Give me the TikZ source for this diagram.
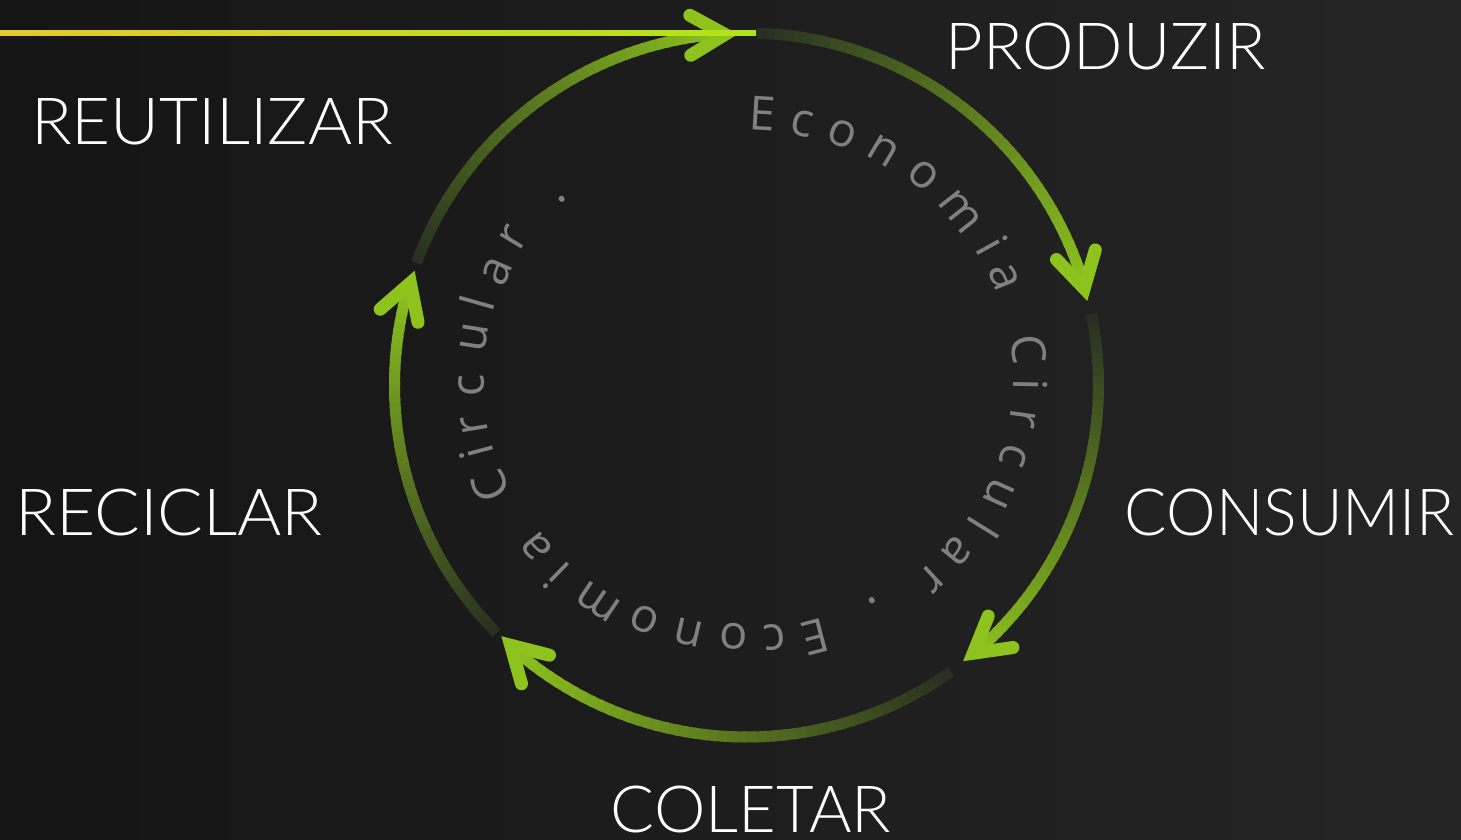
\documentclass[tikz,border=0pt]{standalone}
\usepackage{fontspec}
\usetikzlibrary{calc}
\newfontfamily\labelfont{Lato Light}
\newfontfamily\ringfont{Open Sans}
\definecolor{bgL}{RGB}{21,21,21}
\definecolor{bgR}{RGB}{37,37,37}
\definecolor{arcdark}{RGB}{40,48,33}
\definecolor{arcgreen}{RGB}{140,194,30}
\definecolor{arrowgreen}{RGB}{141,195,28}
\definecolor{lineyellow}{RGB}{228,200,46}
\definecolor{linelime}{RGB}{176,228,26}
\definecolor{ringgray}{RGB}{128,128,128}
\newcommand\gradarc[2]{%
  \foreach \i in {0,...,47}{%
    \pgfmathsetmacro\aa{#1+(#2-#1)*\i/48}%
    \pgfmathsetmacro\bb{#1+(#2-#1)*(\i+1.4)/48}%
    \pgfmathtruncatemacro\pp{100*\i/47}%
    \draw[arcline, color=arcgreen!\pp!arcdark] ($(O)+(\aa:352)$) arc[start angle=\aa, end angle=\bb, radius=352];
  }}
\newcommand\chev[1]{%
  \draw[chevron] ($(O)+(#1:351)+({#1+90}:13)+({#1+60}:40)$) -- ($(O)+(#1:351)+({#1+90}:13)$) -- ($(O)+(#1:351)+({#1+90}:13)+({#1+120}:40)$);
}
\begin{document}
\begin{tikzpicture}[x=1pt,y=1pt,
  arcline/.style={line width=11pt, line cap=butt},
  chevron/.style={arrowgreen, line width=13pt, line cap=round, line join=miter},
  lbl/.style={text=white, font=\labelfont\fontsize{65}{70}\selectfont, inner sep=0pt, anchor=base},
  ringchar/.style={text=ringgray, font=\ringfont\fontsize{47}{50}\selectfont, inner sep=0pt}]
\useasboundingbox (0,0) rectangle (1461,839);
\shade[left color=bgL, right color=bgR] (0,0) rectangle (1461,839);
\coordinate (O) at (746.5,454);

% gradient arcs (clockwise, dark -> green)
\gradarc{88.3}{16.5}
\gradarc{11.6}{-49.5}
\gradarc{-54.5}{-131.8}
\gradarc{224.8}{163.5}
\gradarc{159.7}{93.6}

% arrowheads
\chev{13.85}
\chev{-51.9}
\chev{225.7}
\chev{161}
\chev{91.4}

% horizontal line
\shade[left color=lineyellow, right color=linelime] (0,{839-36}) rectangle (756,{839-31});

% labels
\node[lbl] (produzir) at (1105.5,{839-70}) {PRODUZIR};
\node[lbl, xscale=1.035] (reutilizar) at (212,{839-145}) {REUTILIZAR};
\node[lbl, xscale=0.965] (consumir) at (1289.5,{839-535}) {CONSUMIR};
\node[lbl, xscale=1.04] (reciclar) at (169,{839-535}) {RECICLAR};
\node[lbl] (coletar) at (751,{839-832}) {COLETAR};

% ring text
\foreach \c/\x/\y [count=\k] in {E/763/114, c/802/124, o/842.5/134, n/883/150.5, o/923/175, m/960/212, i/992.5/245, a/1004/277,
  C/1028.3/349.2, i/1030.8/385, r/1023.3/418.3, c/1013.3/455.8, u/999/494, l/984/527.5, a/956.7/551.7, r/930.8/579, ./872/601,
  E/815/637.5, c/775/637.5, o/734/636.7, n/689/633, o/645/620, m/598/602, i/556.7/575.8, a/536.7/546.7,
  C/490.8/485.8, i/476.7/452.5, r/474/425, c/471.7/385.8, u/475/337.5, l/476.7/303.3, a/496.7/271.7, r/513.3/237.5, ./561.7/199.3}{
  \pgfmathsetmacro\rot{atan2(380-\y,\x-747)-90}
  \node[ringchar, rotate=\rot] (ch\k) at ({\x},{839-\y}) {\c};
}
\end{tikzpicture}
\end{document}
